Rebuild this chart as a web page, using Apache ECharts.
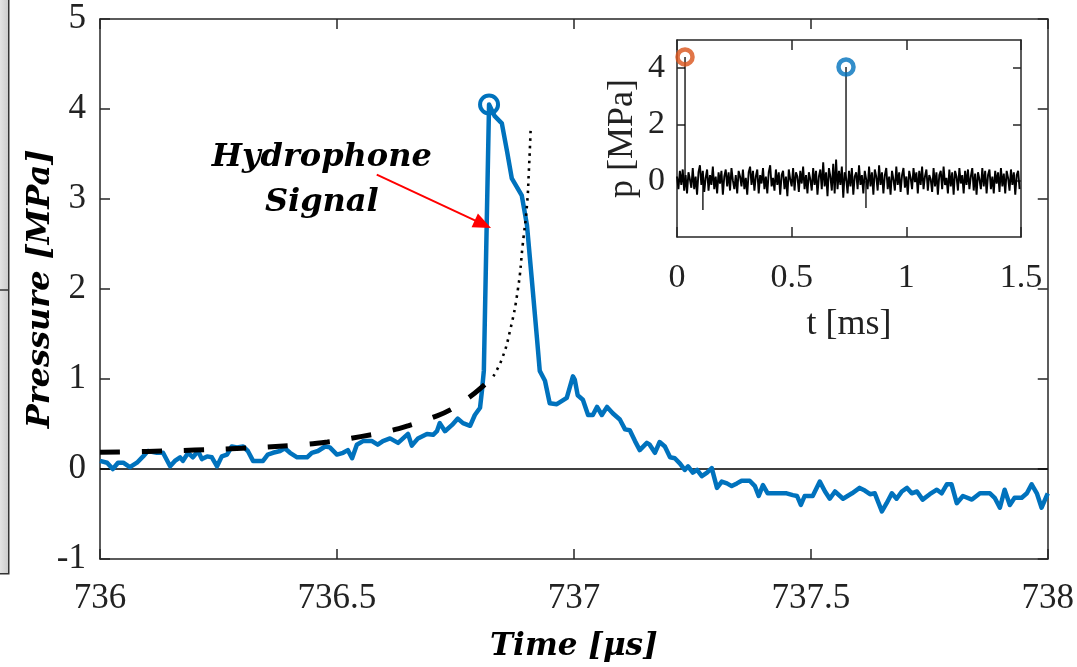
<!DOCTYPE html>
<html><head><meta charset="utf-8">
<script src="https://cdn.jsdelivr.net/npm/echarts@6/dist/echarts.min.js"></script>
<style>html,body{margin:0;padding:0;background:#fff}#c{width:1077px;height:667px}</style>
</head><body><div id="c"></div>
<script>
// ---- data ----
const mainXTicks = [736, 738, 0.5];      // min, max, step
const mainYTicks = [-1, 5, 1];
const insetXTicks = [0, 1.5, 0.5];
const insetYTickValues = [0, 2, 4];

// hydrophone signal [time µs, pressure MPa]
const signal = [
[736.000,0.09],[736.015,0.07],[736.027,0.00],[736.038,0.07],[736.049,0.07],[736.063,0.02],[736.078,0.07],[736.091,0.14],[736.101,0.20],[736.120,0.18],
[736.133,0.18],[736.148,0.03],[736.158,0.09],[736.169,0.13],[736.175,0.09],[736.186,0.18],[736.196,0.13],[736.207,0.20],[736.215,0.11],[736.226,0.14],
[736.236,0.13],[736.247,0.03],[736.257,0.14],[736.268,0.16],[736.278,0.25],[736.289,0.24],[736.302,0.25],[736.312,0.20],[736.323,0.09],[736.344,0.09],
[736.354,0.16],[736.365,0.18],[736.380,0.20],[736.390,0.23],[736.401,0.18],[736.416,0.13],[736.437,0.13],[736.447,0.18],[736.460,0.20],[736.475,0.25],
[736.485,0.24],[736.500,0.16],[736.513,0.18],[736.523,0.21],[736.532,0.12],[736.542,0.27],[736.555,0.31],[736.574,0.31],[736.586,0.27],[736.597,0.31],
[736.612,0.34],[736.629,0.29],[736.650,0.39],[736.658,0.26],[736.671,0.34],[736.690,0.39],[736.703,0.38],[736.711,0.42],[736.717,0.51],[736.728,0.42],
[736.743,0.49],[736.755,0.56],[736.766,0.51],[736.781,0.48],[736.791,0.60],[736.802,0.68],[736.806,0.87],[736.810,1.09],[736.821,4.05],[736.833,3.92],
[736.848,3.84],[736.859,3.53],[736.869,3.23],[736.890,3.04],[736.901,2.71],[736.911,2.12],[736.922,1.46],[736.928,1.09],[736.939,0.98],[736.949,0.73],
[736.964,0.72],[736.985,0.79],[736.998,1.03],[737.002,0.99],[737.008,0.82],[737.019,0.77],[737.030,0.60],[737.040,0.60],[737.049,0.69],[737.059,0.60],
[737.070,0.69],[737.082,0.62],[737.097,0.55],[737.108,0.44],[737.118,0.43],[737.129,0.31],[737.139,0.21],[737.154,0.29],[737.160,0.27],[737.171,0.18],
[737.181,0.30],[737.192,0.25],[737.203,0.13],[737.213,0.12],[737.224,0.06],[737.234,-0.01],[737.241,0.03],[737.251,-0.04],[737.260,-0.01],[737.270,-0.08],
[737.281,-0.04],[737.291,0.01],[737.302,-0.21],[737.312,-0.14],[737.323,-0.16],[737.333,-0.19],[737.344,-0.16],[737.354,-0.13],[737.371,-0.13],[737.382,-0.19],
[737.390,-0.30],[737.399,-0.18],[737.409,-0.27],[737.428,-0.27],[737.449,-0.27],[737.462,-0.29],[737.471,-0.30],[737.479,-0.40],[737.487,-0.30],[737.504,-0.30],
[737.519,-0.14],[737.530,-0.25],[737.540,-0.33],[737.551,-0.25],[737.568,-0.33],[737.587,-0.27],[737.603,-0.21],[737.614,-0.24],[737.625,-0.28],[737.635,-0.27],
[737.650,-0.47],[737.660,-0.38],[737.671,-0.27],[737.681,-0.33],[737.692,-0.25],[737.703,-0.21],[737.713,-0.27],[737.724,-0.25],[737.736,-0.34],[737.751,-0.28],
[737.766,-0.23],[737.776,-0.27],[737.787,-0.17],[737.797,-0.17],[737.808,-0.38],[737.821,-0.30],[737.840,-0.34],[737.857,-0.27],[737.878,-0.27],[737.888,-0.32],
[737.899,-0.43],[737.909,-0.23],[737.920,-0.40],[737.930,-0.32],[737.945,-0.32],[737.956,-0.27],[737.966,-0.17],[737.977,-0.27],[737.987,-0.43],[738.000,-0.27]
];
// fitted curve (dashed) and its extrapolation (dotted)
const fitCurve = [[736.0,0.185],[736.1,0.195],[736.2,0.21],[736.3,0.23],[736.4,0.26],[736.48,0.30],[736.55,0.36],[736.6,0.41],[736.65,0.48],[736.7,0.57],[736.74,0.66],[736.78,0.80],[736.81,0.93],[736.83,1.03]];
const fitExtrap = [[736.83,1.03],[736.848,1.22],[736.865,1.53],[736.882,2.0],[736.892,2.49],[736.901,2.93],[736.905,3.31],[736.909,3.8]];
const peakPoint = [[736.821,4.05]];
// inset: noise record (MPa), sampled every insetStep ms
const insetStep = 0.00625;
const insetNoise = [
0.15,-0.3,0.35,-0.15,0.4,-0.35,0.2,-0.45,0.3,0.05,-0.25,0.45,
-0.3,0.15,-0.5,0.3,0.55,-0.15,0.35,-0.4,0.1,0.4,-0.35,0.2,
-0.15,0.5,-0.3,0.15,-0.45,0.3,-0.1,0.35,-0.5,0.15,0.4,-0.2,
0.3,-0.35,0.45,0.0,-0.3,0.2,-0.45,0.35,0.15,-0.2,0.4,-0.3,
0.1,-0.5,0.3,0.5,-0.15,0.35,-0.35,0.15,0.4,-0.45,0.2,-0.1,
0.45,-0.3,0.15,-0.45,0.3,0.55,-0.2,0.1,-0.35,0.4,-0.15,0.3,
-0.5,0.2,0.35,-0.3,0.15,-0.55,0.4,0.05,-0.2,0.45,-0.35,0.3,
0.15,-0.4,0.35,-0.1,0.5,-0.3,0.2,-0.45,0.3,0.05,-0.35,0.45,
-0.15,0.35,-0.5,0.15,0.4,-0.3,0.65,-0.2,0.3,-0.55,0.45,0.15,
-0.35,0.6,-0.45,0.75,-0.3,0.35,-0.15,0.5,-0.6,0.3,0.1,-0.45,
0.35,-0.2,0.45,-0.5,0.15,0.3,-0.3,0.55,-0.15,0.2,-0.45,0.35,
0.05,-0.3,0.5,-0.2,0.3,-0.5,0.4,0.15,-0.35,0.55,-0.15,0.3,
-0.45,0.2,0.45,-0.3,0.15,-0.5,0.35,0.05,-0.35,0.5,-0.15,0.3,
-0.4,0.2,0.45,-0.25,0.15,-0.5,0.35,0.1,-0.3,0.45,-0.05,0.3,
-0.45,0.35,-0.15,0.5,-0.3,0.15,0.4,-0.35,0.2,0.05,-0.4,0.45,
-0.2,0.3,-0.5,0.2,0.35,-0.3,0.5,-0.15,0.1,-0.45,0.4,-0.2,
0.3,-0.5,0.35,0.15,-0.35,0.45,-0.1,0.2,-0.45,0.35,-0.15,0.4,
-0.3,0.15,0.45,-0.35,0.25,-0.5,0.3,0.05,-0.3,0.45,-0.2,0.35,
-0.45,0.2,0.4,-0.3,0.15,-0.45,0.35,-0.1,0.3,-0.4,0.45,-0.2,
0.25,-0.45,0.35,0.1,-0.35,0.4,-0.15,0.3,-0.5,0.2,0.35,-0.3
];
// inset spikes: [time ms, base, tip]
const insetSpikes = [[0.035,0.0,4.4],[0.113,0.0,-1.04],[0.737,0.0,4.04],[0.824,0.0,-0.97]];
const insetFirstPeak = [[0.035,4.4]];
const insetSecondPeak = [[0.737,4.04]];
// annotation
const arrowFrom = [736.584,3.27], arrowTo = [736.808,2.72];
const labelAt = [736.468,3.21];

// ---- chart ----
const AX = '#262626';
const serif = 'Liberation Serif';
const titleFont = {fontFamily:'DejaVu Serif',fontWeight:'bold',fontStyle:'italic',color:'#000'};
function axisBase(extra){
  return Object.assign({
    type:'value',
    nameMoveOverlap:false,
    axisLine:{show:true,onZero:false,lineStyle:{color:AX,width:1.5}},
    axisTick:{show:true,inside:true,length:10,lineStyle:{color:AX,width:1.5}},
    splitLine:{show:false}
  }, extra);
}
const noiseData = insetNoise.map((v,i)=>[i*insetStep, v]);
const spikeSeries = insetSpikes.map(s=>({
  type:'line', xAxisIndex:2, yAxisIndex:2, data:[[s[0],s[1]],[s[0],s[2]]],
  showSymbol:false, silent:true, lineStyle:{color:'#000',width:1.3}, z:3
}));

const chart = echarts.init(document.getElementById('c'), null, {renderer:'canvas'});
chart.setOption({
  animation:false,
  backgroundColor:'#fff',
  grid:[
    {left:100, top:19, width:948, height:543},
    {left:677, top:40, width:344, height:197}
  ],
  xAxis:[
    axisBase({gridIndex:0, position:'bottom', min:mainXTicks[0], max:mainXTicks[1], interval:mainXTicks[2],
      axisLabel:{margin:22,fontSize:35,fontFamily:serif,color:'#222'},
      name:'Time [μs]', nameLocation:'middle', nameGap:72, nameTextStyle:Object.assign({fontSize:31},titleFont)}),
    axisBase({gridIndex:0, position:'top', min:mainXTicks[0], max:mainXTicks[1], interval:mainXTicks[2], axisLabel:{show:false}}),
    axisBase({gridIndex:1, position:'bottom', min:insetXTicks[0], max:insetXTicks[1], interval:insetXTicks[2],
      axisLabel:{margin:24,fontSize:34,fontFamily:serif,color:'#222'},
      name:'t [ms]', nameLocation:'middle', nameGap:70, nameTextStyle:{fontSize:36,fontFamily:serif,color:'#222'}}),
    axisBase({gridIndex:1, position:'top', min:insetXTicks[0], max:insetXTicks[1], interval:insetXTicks[2], axisLabel:{show:false}})
  ],
  yAxis:[
    axisBase({gridIndex:0, position:'left', min:mainYTicks[0], max:mainYTicks[1], interval:mainYTicks[2],
      axisLabel:{margin:14,fontSize:35,fontFamily:serif,color:'#222'},
      name:'Pressure [MPa]', nameLocation:'middle', nameGap:43, nameTextStyle:Object.assign({fontSize:32},titleFont)}),
    axisBase({gridIndex:0, position:'right', min:mainYTicks[0], max:mainYTicks[1], interval:mainYTicks[2], axisLabel:{show:false}}),
    axisBase({gridIndex:1, position:'left', min:-2, max:5,
      axisTick:{show:true,inside:true,length:8,customValues:insetYTickValues,lineStyle:{color:AX,width:1.5}},
      axisLabel:{margin:12,fontSize:34,fontFamily:serif,color:'#222',customValues:insetYTickValues},
      name:'p [MPa]', nameLocation:'middle', nameGap:36, nameTextStyle:{fontSize:36,fontFamily:serif,color:'#222'}}),
    axisBase({gridIndex:1, position:'right', min:-2, max:5,
      axisTick:{show:true,inside:true,length:8,customValues:insetYTickValues,lineStyle:{color:AX,width:1.5}},
      axisLabel:{show:false}})
  ],
  graphic:[
    {type:'rect', left:-2, top:-2, shape:{x:0,y:0,width:10,height:575},
     style:{fill:new echarts.graphic.LinearGradient(0,0,1,0,[{offset:0,color:'#e8e8e8'},{offset:1,color:'#c8c8c8'}]),stroke:'#333',lineWidth:1.5}, silent:true},
    {type:'line', shape:{x1:0,y1:290,x2:8,y2:290}, style:{stroke:'#333',lineWidth:1.5}, silent:true}
  ],
  series:[
    {type:'line', name:'signal', xAxisIndex:0, yAxisIndex:0, data:signal, showSymbol:false, silent:true,
     lineStyle:{color:'#0072BD',width:4.5,join:'round'}, z:3,
     markLine:{silent:true, symbol:['none','none'], label:{show:false},
       lineStyle:{color:'#000',width:1.5,type:'solid'}, data:[{yAxis:0}], z:2}},
    {type:'line', name:'fit', xAxisIndex:0, yAxisIndex:0, data:fitCurve, showSymbol:false, silent:true, smooth:true,
     lineStyle:{color:'#000',width:5,type:[20,22]}, z:4},
    {type:'line', name:'extrap', xAxisIndex:0, yAxisIndex:0, data:fitExtrap, showSymbol:false, silent:true, smooth:true,
     lineStyle:{color:'#000',width:2.6,type:[2.5,5]}, z:4},
    {type:'scatter', xAxisIndex:0, yAxisIndex:0, data:peakPoint, symbol:'circle', symbolSize:18, silent:true,
     itemStyle:{color:'rgba(255,255,255,0)',borderColor:'#0072BD',borderWidth:4, opacity:1}, z:5},
    {type:'line', xAxisIndex:0, yAxisIndex:0, data:[], silent:true,
     markLine:{silent:true, symbol:['none','triangle'], symbolSize:[15,18], label:{show:false},
       lineStyle:{color:'#ff0000',width:2,type:'solid'},
       data:[[{coord:arrowFrom},{coord:arrowTo}]]},
     markPoint:{silent:true, data:[{coord:labelAt, symbol:'circle', symbolSize:0,
       label:{show:true, position:'inside', formatter:'Hydrophone\nSignal', fontSize:32, lineHeight:45,
         fontFamily:'DejaVu Serif', fontWeight:'bold', fontStyle:'italic', color:'#000', align:'center'}}]}},
    {type:'line', xAxisIndex:2, yAxisIndex:2, data:noiseData, showSymbol:false, silent:true, sampling:null,
     lineStyle:{color:'#000',width:1.9}, z:3}
  ].concat(spikeSeries).concat([
    {type:'scatter', xAxisIndex:2, yAxisIndex:2, data:insetFirstPeak, symbol:'circle', symbolSize:15, silent:true,
     itemStyle:{color:'rgba(255,255,255,0)',borderColor:'#D95319',borderWidth:4.5}, z:6, clip:false},
    {type:'scatter', xAxisIndex:2, yAxisIndex:2, data:insetSecondPeak, symbol:'circle', symbolSize:15, silent:true,
     itemStyle:{color:'rgba(255,255,255,0)',borderColor:'#0072BD',borderWidth:4.5}, z:6, clip:false}
  ])
});
</script></body></html>
